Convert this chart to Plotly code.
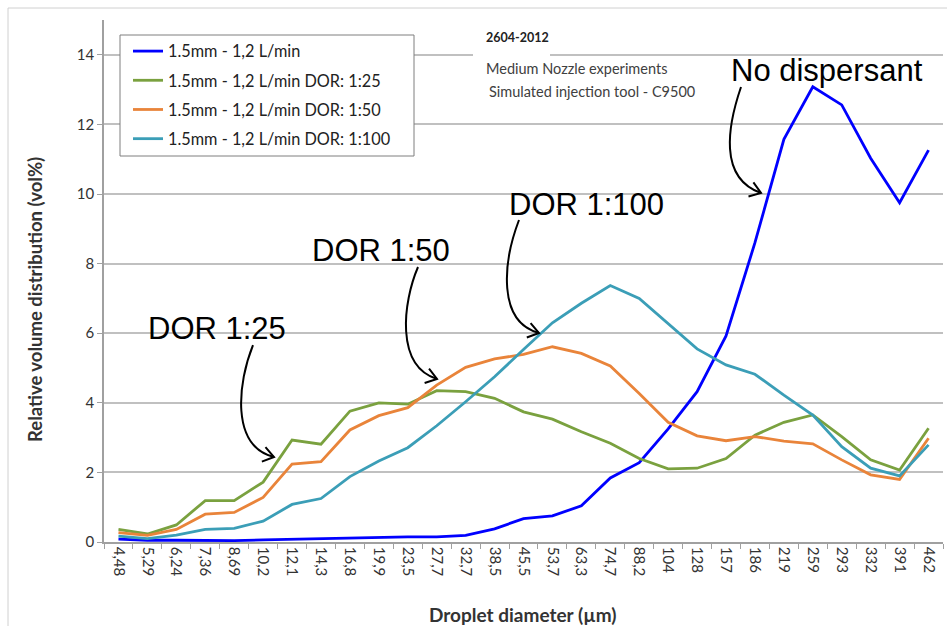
import math
import plotly.graph_objects as go

# ---------------- data ----------------
diameters = ["4,48", "5,29", "6,24", "7,36", "8,69", "10,2", "12,1", "14,3", "16,8", "19,9",
             "23,5", "27,7", "32,7", "38,5", "45,5", "53,7", "63,3", "74,7", "88,2", "104",
             "128", "157", "186", "219", "259", "293", "332", "391", "462"]

no_dispersant = [0.08, 0.05, 0.05, 0.04, 0.04, 0.06, 0.08, 0.10, 0.13, 0.15,
                 0.15, 0.15, 0.19, 0.38, 0.67, 0.75, 1.04, 1.84, 2.28, 3.25,
                 4.32, 5.92, 8.60, 11.57, 13.08, 12.56, 11.03, 9.75, 11.26]
dor_25 = [0.36, 0.23, 0.49, 1.19, 1.19, 1.72, 2.93, 2.81, 3.76, 4.00,
          3.96, 4.35, 4.32, 4.13, 3.74, 3.53, 3.17, 2.84, 2.40, 2.10,
          2.12, 2.40, 3.07, 3.44, 3.65, 3.03, 2.36, 2.07, 3.27]
dor_50 = [0.27, 0.19, 0.36, 0.80, 0.85, 1.28, 2.24, 2.31, 3.22, 3.63,
          3.86, 4.51, 5.02, 5.26, 5.39, 5.61, 5.42, 5.06, 4.27, 3.44,
          3.05, 2.91, 3.03, 2.90, 2.82, 2.36, 1.93, 1.80, 2.98]
dor_100 = [0.17, 0.10, 0.20, 0.36, 0.39, 0.60, 1.08, 1.25, 1.88, 2.33,
           2.71, 3.34, 4.03, 4.75, 5.53, 6.30, 6.86, 7.37, 7.00, 6.28,
           5.55, 5.09, 4.82, 4.22, 3.65, 2.74, 2.12, 1.90, 2.79]

series_names = ["1.5mm - 1,2 L/min", "1.5mm - 1,2 L/min DOR: 1:25",
                "1.5mm - 1,2 L/min DOR: 1:50", "1.5mm - 1,2 L/min DOR: 1:100"]
series_values = [no_dispersant, dor_25, dor_50, dor_100]
series_colors = ["#0000FF", "#7AA13F", "#E9843A", "#3B9EB7"]

y_ticks = [0, 2, 4, 6, 8, 10, 12, 14]

# ---------------- layout geometry (pixels) ----------------
W, H = 947, 626
L, R, T, B = 104, 943, 20, 542  # plot area edges


def P(px, py):
    return ((px - L) / (R - L), (B - py) / (B - T))


fig = go.Figure()
for i, (name, vals, col) in enumerate(zip(series_names, series_values, series_colors)):
    fig.add_trace(go.Scatter(x=diameters, y=vals, mode="lines", name=name,
                             line=dict(color=col, width=2.8), legendgroup=f"g{i}"))

shapes = []
annotations = []

# curved callout arrows: (start, ctrl1, ctrl2, tip)
arrows = [
    ((741, 87), (728, 125), (718, 178), (761, 193)),
    ((519, 220), (503, 262), (497, 322), (539, 333)),
    ((418, 267), (403, 302), (395, 366), (437, 379)),
    ((253, 345), (238, 382), (230, 446), (274, 457)),
]
for s, c1, c2, e in arrows:
    pts = [P(*s), P(*c1), P(*c2), P(*e)]
    path = "M {:.5f},{:.5f} C {:.5f},{:.5f} {:.5f},{:.5f} {:.5f},{:.5f}".format(
        *pts[0], *pts[1], *pts[2], *pts[3])
    shapes.append(dict(type="path", path=path, xref="paper", yref="paper",
                       line=dict(color="black", width=2)))
    # open V arrowhead
    dx, dy = e[0] - c2[0], e[1] - c2[1]
    n = math.hypot(dx, dy)
    ux, uy = -dx / n, -dy / n
    hp = []
    for sg in (1, -1):
        a = math.radians(35) * sg
        rx = ux * math.cos(a) - uy * math.sin(a)
        ry = ux * math.sin(a) + uy * math.cos(a)
        hp.append((e[0] + 13 * rx, e[1] + 13 * ry))
    p1, p2, pt = P(*hp[0]), P(*hp[1]), P(*e)
    shapes.append(dict(type="path", xref="paper", yref="paper",
                       path="M {:.5f},{:.5f} L {:.5f},{:.5f} L {:.5f},{:.5f}".format(*p1, *pt, *p2),
                       line=dict(color="black", width=2)))

# outer chart border (only left/top edges visible in frame)
bx0, by0 = P(8, 8)
bx1, by1 = P(970, 650)
shapes.append(dict(type="rect", xref="paper", yref="paper", x0=bx0, y0=by1, x1=bx1, y1=by0,
                   line=dict(color="#D0D0D0", width=1), layer="below"))

# legend box
lbx0, lby0 = P(120, 35)
lbx1, lby1 = P(414, 156)
shapes.append(dict(type="rect", xref="paper", yref="paper", x0=lbx0, y0=lby1, x1=lbx1, y1=lby0,
                   line=dict(color="#7F7F7F", width=1), fillcolor="white", layer="above"))
# white box behind the date label
wx0, wy0 = P(473, 25)
wx1, wy1 = P(550, 58)
shapes.append(dict(type="rect", xref="paper", yref="paper", x0=wx0, y0=wy1, x1=wx1, y1=wy0,
                   line=dict(width=0), fillcolor="white", layer="above"))

big = dict(family="Liberation Sans, Arial, sans-serif", size=31, color="black")
for txt, (px, py) in [("No dispersant", (827, 70)), ("DOR 1:100", (586, 204)),
                      ("DOR 1:50", (381, 251)), ("DOR 1:25", (217, 328))]:
    x, y = P(px, py)
    annotations.append(dict(text=txt, x=x, y=y, xref="paper", yref="paper", showarrow=False,
                            xanchor="center", yanchor="middle", font=big))

small = dict(family="Lato, Open Sans, sans-serif", size=14.5, color="#404040")
x, y = P(484, 37)
annotations.append(dict(text="<b>2604-2012</b>", x=x, y=y, xref="paper", yref="paper",
                        showarrow=False, xanchor="left", yanchor="middle",
                        font=dict(family="Lato, sans-serif", size=12.5, color="#222")))
for txt, (px, py) in [("Medium Nozzle experiments", (484, 68)),
                      ("Simulated injection tool - C9500", (487, 91))]:
    x, y = P(px, py)
    annotations.append(dict(text=txt, x=x, y=y, xref="paper", yref="paper", showarrow=False,
                            xanchor="left", yanchor="middle", font=small))

# axis titles
x, y = P(522, 614)
annotations.append(dict(text="<b>Droplet diameter (µm)</b>", x=x, y=y, xref="paper", yref="paper",
                        showarrow=False, xanchor="center", yanchor="middle",
                        font=dict(family="Lato, sans-serif", size=19, color="#333")))
x, y = P(35, 300)
annotations.append(dict(text="<b>Relative volume distribution (vol%)</b>", x=x, y=y, xref="paper",
                        yref="paper", showarrow=False, xanchor="center", yanchor="middle",
                        textangle=-90, font=dict(family="Lato, sans-serif", size=18.5, color="#333")))

lx, ly = P(128, 34)
fig.update_layout(
    width=W, height=H,
    margin=dict(l=L, r=W - R, t=T, b=H - B, autoexpand=False),
    paper_bgcolor="white", plot_bgcolor="white",
    showlegend=True,
    legend=dict(x=lx, y=ly, xanchor="left", yanchor="top", bgcolor="rgba(0,0,0,0)",
                borderwidth=0, traceorder="grouped", tracegroupgap=5,
                font=dict(family="Lato, sans-serif", size=16.3, color="#222")),
    xaxis=dict(type="category", range=[-0.5, len(diameters) - 0.5], tickangle=90,
               tickson="boundaries", ticks="outside", ticklen=5, tickcolor="#A0A0A0",
               showline=True, linecolor="#A0A0A0", linewidth=1.5, showgrid=False,
               automargin=False,
               tickfont=dict(family="Lato, sans-serif", size=15, color="#333"), fixedrange=True),
    yaxis=dict(range=[0, 15], tickvals=y_ticks, ticks="outside", ticklen=5, tickcolor="#A0A0A0",
               showline=True, linecolor="#A0A0A0", linewidth=1.5, showgrid=True,
               gridcolor="#C0C0C0", gridwidth=1.5, zeroline=False, automargin=False,
               tickfont=dict(family="Lato, sans-serif", size=15, color="#333"), fixedrange=True),
    shapes=shapes, annotations=annotations,
)

fig.write_html("out.html", config={"displayModeBar": False},
               post_script="document.body.style.margin='0';document.body.style.overflow='hidden';")
